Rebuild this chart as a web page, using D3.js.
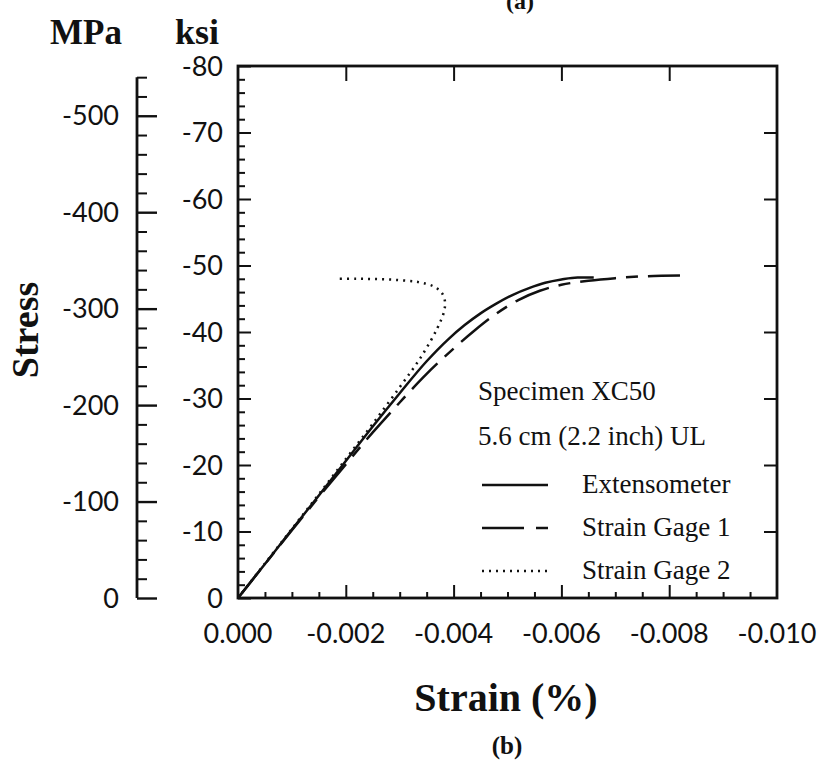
<!DOCTYPE html>
<html>
<head>
<meta charset="utf-8">
<script src="https://cdn.jsdelivr.net/npm/d3@7"></script>
<style>
  body { margin: 0; background: #fff; }
  svg { display: block; }
  .tick-label { font-family: Lato, "Liberation Sans", sans-serif; font-size: 27px; fill: #111; }
  .title { font-family: "Liberation Serif", serif; font-weight: bold; fill: #111; }
  .legend { font-family: "Liberation Serif", serif; font-size: 27px; fill: #111; }
</style>
</head>
<body>
<svg id="chart" width="825" height="761"></svg>
<script>
// strain (%) and stress (ksi)
const extensometerStrain = [0, -0.0005, -0.001, -0.0015, -0.002, -0.0025, -0.003, -0.0035, -0.0039, -0.0042, -0.0045, -0.0048, -0.0051, -0.0054, -0.0057, -0.006, -0.0063, -0.0066];
const extensometerStress = [0, -5.1, -10.3, -15.4, -20.6, -25.8, -30.8, -35.6, -38.9, -41.0, -42.8, -44.3, -45.6, -46.6, -47.4, -47.9, -48.2, -48.2];

const gage1Strain = [0, -0.0005, -0.001, -0.0015, -0.002, -0.0025, -0.003, -0.0035, -0.004, -0.0044, -0.0048, -0.0052, -0.0056, -0.006, -0.0065, -0.007, -0.0076, -0.0082];
const gage1Stress = [0, -5.1, -10.2, -15.2, -20.1, -24.9, -29.4, -33.7, -37.5, -40.3, -42.8, -44.8, -46.2, -47.1, -47.7, -48.1, -48.4, -48.5];

const gage2Strain = [0, -0.0005, -0.001, -0.0015, -0.002, -0.0025, -0.003, -0.0034, -0.0037, -0.00382, -0.00384, -0.00378, -0.00362, -0.00335, -0.003, -0.0026, -0.0022, -0.0018];
const gage2Stress = [0, -5.2, -10.4, -15.6, -20.9, -26.2, -31.7, -36.3, -40.6, -43.0, -44.6, -45.9, -46.9, -47.5, -47.8, -47.95, -48.0, -48.0];

const strainTicks = [0, -0.002, -0.004, -0.006, -0.008, -0.010];
const ksiTicks = [0, -10, -20, -30, -40, -50, -60, -70, -80];
const mpaTicks = [0, -100, -200, -300, -400, -500];

const legendItems = ["Extensometer", "Strain Gage 1", "Strain Gage 2"];
const specimenLines = ["Specimen XC50", "5.6 cm (2.2 inch) UL"];

const KSI_TO_MPA = 6.894757;
const DASH = { solid: null, gage1: "36,10,12,10", gage2: "2,5" };

const svg = d3.select("#chart");

const x = d3.scaleLinear([0, -0.010], [238, 777]);
const yKsi = d3.scaleLinear([0, -80], [598, 66]);
const yMpa = d3.scaleLinear([0, -80 * KSI_TO_MPA], [598, 66]);

function range(start, stop, step) {
  return d3.range(Math.round((stop - start) / step) + 1).map((i) => +(start + i * step).toFixed(6));
}

function tickAxis(axis, transform, width = 2) {
  const g = svg.append("g").attr("transform", transform).call(axis);
  g.select(".domain").remove();
  g.selectAll("line").attr("stroke", "#111").attr("stroke-width", width);
  g.selectAll("text").remove();
  return g;
}

// frame
svg.append("rect")
  .attr("x", x(0)).attr("y", yKsi(-80))
  .attr("width", x(-0.010) - x(0)).attr("height", yKsi(0) - yKsi(-80))
  .attr("fill", "none").attr("stroke", "#111").attr("stroke-width", 2.8);

// left frame ticks (ksi), pointing inward
tickAxis(d3.axisRight(yKsi).tickValues(range(0, -80, -2).filter((v) => v % 10 !== 0)).tickSize(7), `translate(${x(0)},0)`);
tickAxis(d3.axisRight(yKsi).tickValues(ksiTicks).tickSize(13), `translate(${x(0)},0)`);
// right frame ticks
tickAxis(d3.axisLeft(yKsi).tickValues(ksiTicks.slice(1, -1)).tickSize(13), `translate(${x(-0.010)},0)`);
// bottom ticks
tickAxis(d3.axisTop(x).tickValues(range(0, -0.010, -0.0005).filter((v, i) => i % 4 !== 0)).tickSize(6), `translate(0,${yKsi(0)})`);
tickAxis(d3.axisTop(x).tickValues(strainTicks.slice(1, -1)).tickSize(13), `translate(0,${yKsi(0)})`);
// top ticks
tickAxis(d3.axisBottom(x).tickValues(strainTicks.slice(1, -1)).tickSize(15), `translate(0,${yKsi(-80)})`);

// MPa axis
const mpaX = 137;
svg.append("line")
  .attr("x1", mpaX).attr("x2", mpaX)
  .attr("y1", yMpa(0)).attr("y2", yMpa(-540))
  .attr("stroke", "#111").attr("stroke-width", 2.8);
tickAxis(d3.axisRight(yMpa).tickValues(range(0, -540, -20).filter((v) => v % 100 !== 0)).tickSize(10), `translate(${mpaX},0)`);
tickAxis(d3.axisRight(yMpa).tickValues(mpaTicks).tickSize(20), `translate(${mpaX},0)`, 2.4);

// tick labels
svg.append("g").selectAll("text").data(mpaTicks).join("text")
  .attr("class", "tick-label")
  .attr("x", 119).attr("y", (d) => yMpa(d))
  .attr("dy", "0.36em").attr("text-anchor", "end")
  .text((d) => d);

svg.append("g").selectAll("text").data(ksiTicks).join("text")
  .attr("class", "tick-label")
  .attr("x", 223).attr("y", (d) => yKsi(d))
  .attr("dy", "0.36em").attr("text-anchor", "end")
  .text((d) => d);

svg.append("g").selectAll("text").data(strainTicks).join("text")
  .attr("class", "tick-label")
  .attr("x", (d) => x(d)).attr("y", 643)
  .attr("text-anchor", "middle")
  .text((d) => d3.format(".3f")(d).replace("−", "-"));

// titles
svg.append("text").attr("class", "title").attr("x", 520).attr("y", 9)
  .attr("text-anchor", "middle").style("font-size", "24px").text("(a)");
svg.append("text").attr("class", "title").attr("x", 86).attr("y", 44)
  .attr("text-anchor", "middle").style("font-size", "35px").text("MPa");
svg.append("text").attr("class", "title").attr("x", 197).attr("y", 44)
  .attr("text-anchor", "middle").style("font-size", "36px").text("ksi");
svg.append("text").attr("class", "title")
  .attr("transform", "translate(38,330) rotate(-90)")
  .attr("text-anchor", "middle").style("font-size", "38px").text("Stress");
svg.append("text").attr("class", "title").attr("x", 506).attr("y", 711)
  .attr("text-anchor", "middle").style("font-size", "40px").text("Strain (%)");
svg.append("text").attr("class", "title").attr("x", 507).attr("y", 754)
  .attr("text-anchor", "middle").style("font-size", "25px").text("(b)");

// curves
const line = d3.line().x((d) => x(d[0])).y((d) => yKsi(d[1])).curve(d3.curveMonotoneX);
const smooth = d3.line().x((d) => x(d[0])).y((d) => yKsi(d[1])).curve(d3.curveCatmullRom);

const series = [
  { strain: extensometerStrain, stress: extensometerStress, dash: DASH.solid, gen: line },
  { strain: gage1Strain, stress: gage1Stress, dash: DASH.gage1, gen: line },
  { strain: gage2Strain, stress: gage2Stress, dash: DASH.gage2, gen: smooth },
];

series.forEach((s) => {
  svg.append("path")
    .datum(d3.zip(s.strain, s.stress))
    .attr("d", s.gen)
    .attr("fill", "none")
    .attr("stroke", "#111")
    .attr("stroke-width", 2.5)
    .attr("stroke-dasharray", s.dash);
});

// legend
svg.append("g").selectAll("text").data(specimenLines).join("text")
  .attr("class", "legend")
  .attr("x", 478).attr("y", (d, i) => 400 + i * 45)
  .text((d) => d);

const legend = svg.append("g").selectAll("g").data(legendItems).join("g")
  .attr("transform", (d, i) => `translate(482,${485 + i * 43})`);
legend.append("line")
  .attr("x1", 0).attr("x2", 66).attr("y1", 0).attr("y2", 0)
  .attr("stroke", "#111").attr("stroke-width", 2.5)
  .attr("stroke-dasharray", (d, i) => [null, "42,12,12,100", "2,5"][i]);
legend.append("text")
  .attr("class", "legend")
  .attr("x", 100).attr("y", 8)
  .text((d) => d);
</script>
</body>
</html>
